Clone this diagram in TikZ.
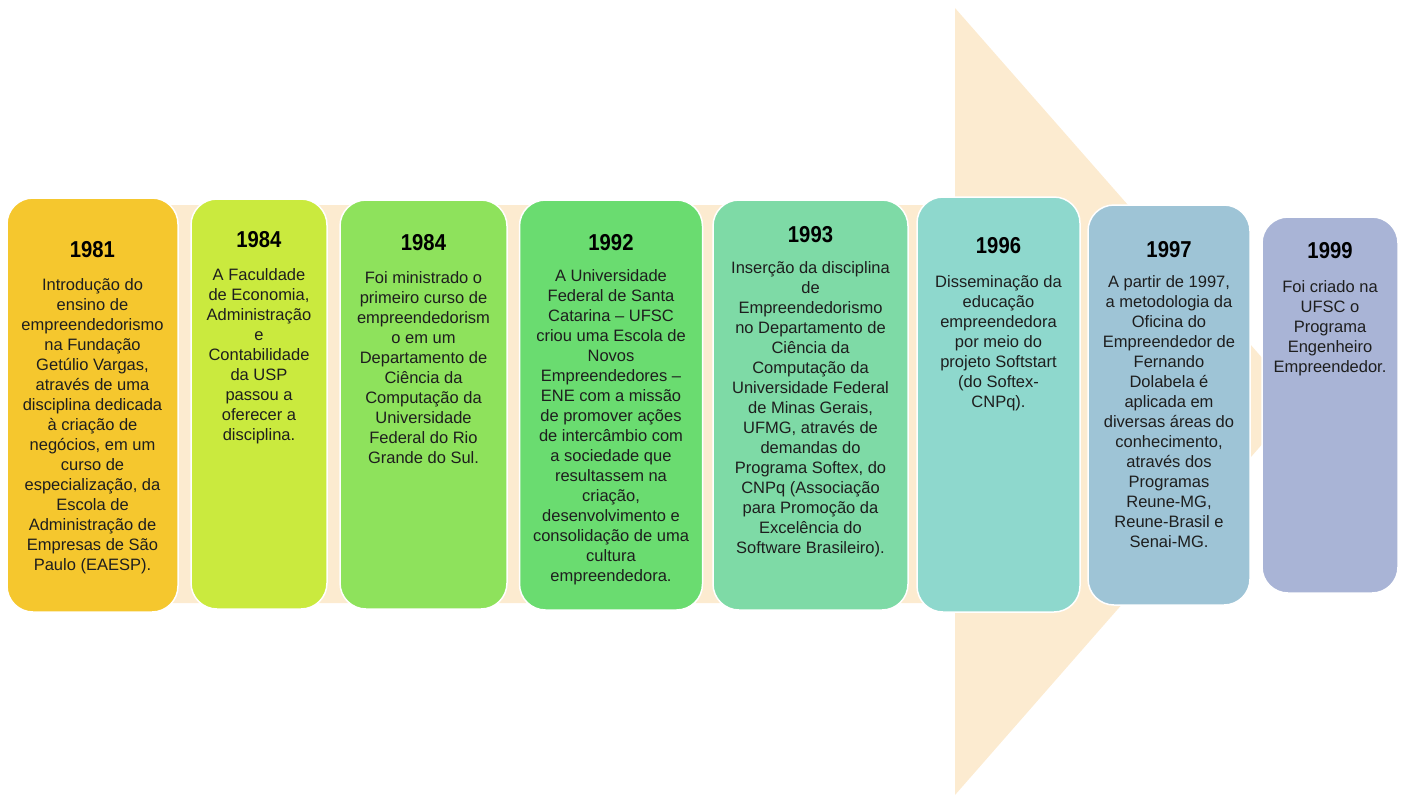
\documentclass[tikz,border=0pt]{standalone}
\usepackage{fontspec}
\setmainfont{Liberation Sans}
\definecolor{peach}{RGB}{252,235,208}
\definecolor{cA}{RGB}{245,199,46}
\definecolor{cB}{RGB}{202,234,62}
\definecolor{cC}{RGB}{142,226,92}
\definecolor{cD}{RGB}{106,220,112}
\definecolor{cE}{RGB}{126,218,166}
\definecolor{cF}{RGB}{142,216,205}
\definecolor{cG}{RGB}{158,196,214}
\definecolor{cH}{RGB}{169,180,214}
\definecolor{txt}{RGB}{30,30,30}
\newcommand{\yr}[1]{\scalebox{0.88}[1]{#1}}
\tikzset{
  tbox/.style={draw=white, line width=1.5pt, rounded corners=26pt, inner sep=0pt},
  year/.style={font=\fontsize{23}{26}\selectfont\bfseries, anchor=base, inner sep=0pt, text=black},
  body/.style={font=\fontsize{16.5}{20}\selectfont, align=center, anchor=base, inner sep=0pt, text=txt},
}
\begin{document}
\begin{tikzpicture}[x=1pt,y=-1pt]
\useasboundingbox (0,0) rectangle (1401,796);
% big arrow
\fill[peach] (25,205) -- (955,205) -- (955,8) -- (1300,401) -- (955,795) -- (955,603) -- (25,603) -- cycle;
% boxes
\node[tbox, fill=cA, minimum width=171pt, minimum height=414pt] (b1) at (92.5,405) {};
\node[tbox, fill=cB, minimum width=136pt, minimum height=410pt] (b2) at (259,404) {};
\node[tbox, fill=cC, minimum width=167pt, minimum height=409pt] (b3) at (423.5,404.5) {};
\node[tbox, fill=cD, minimum width=183pt, minimum height=410pt] (b4) at (611,405) {};
\node[tbox, fill=cE, minimum width=195pt, minimum height=410pt] (b5) at (810.5,405) {};
\node[tbox, fill=cF, minimum width=163pt, minimum height=415pt] (b6) at (998.5,404.5) {};
\node[tbox, fill=cG, minimum width=162pt, minimum height=400pt] (b7) at (1169,405) {};
\node[tbox, fill=cH, minimum width=136pt, minimum height=376pt] (b8) at (1330,405) {};
% years
\node[year] (y1) at (92.5,257) {\yr{1981}};
\node[year] (y2) at (259,247) {\yr{1984}};
\node[year] (y3) at (423.5,250) {\yr{1984}};
\node[year] (y4) at (611,250) {\yr{1992}};
\node[year] (y5) at (810.5,242) {\yr{1993}};
\node[year] (y6) at (998.5,253) {\yr{1996}};
\node[year] (y7) at (1169,257) {\yr{1997}};
\node[year] (y8) at (1330,258) {\yr{1999}};
% bodies (base anchor = baseline of the last line)
\node[body] (t1) at (92.5,570) {Introdução do\\ensino de\\empreendedorismo\\na Fundação\\Getúlio Vargas,\\através de uma\\disciplina dedicada\\à criação de\\negócios, em um\\curso de\\especialização, da\\Escola de\\Administração de\\Empresas de São\\Paulo (EAESP).};
\node[body] (t2) at (259,440) {A Faculdade\\de Economia,\\Administração\\e\\Contabilidade\\da USP\\passou a\\oferecer a\\disciplina.};
\node[body] (t3) at (423.5,463) {Foi ministrado o\\primeiro curso de\\empreendedorism\\o em um\\Departamento de\\Ciência da\\Computação da\\Universidade\\Federal do Rio\\Grande do Sul.};
\node[body] (t4) at (611,581) {A Universidade\\Federal de Santa\\Catarina -- UFSC\\criou uma Escola de\\Novos\\Empreendedores --\\ENE com a missão\\de promover ações\\de intercâmbio com\\a sociedade que\\resultassem na\\criação,\\desenvolvimento e\\consolidação de uma\\cultura\\empreendedora.};
\node[body] (t5) at (810.5,553) {Inserção da disciplina\\de\\Empreendedorismo\\no Departamento de\\Ciência da\\Computação da\\Universidade Federal\\de Minas Gerais,\\UFMG, através de\\demandas do\\Programa Softex, do\\CNPq (Associação\\para Promoção da\\Excelência do\\Software Brasileiro).};
\node[body] (t6) at (998.5,407) {Disseminação da\\educação\\empreendedora\\por meio do\\projeto Softstart\\(do Softex-\\CNPq).};
\node[body] (t7) at (1169,547) {A partir de 1997,\\a metodologia da\\Oficina do\\Empreendedor de\\Fernando\\Dolabela é\\aplicada em\\diversas áreas do\\conhecimento,\\através dos\\Programas\\Reune-MG,\\Reune-Brasil e\\Senai-MG.};
\node[body] (t8) at (1330,372) {Foi criado na\\UFSC o\\Programa\\Engenheiro\\Empreendedor.};
\end{tikzpicture}
\end{document}
